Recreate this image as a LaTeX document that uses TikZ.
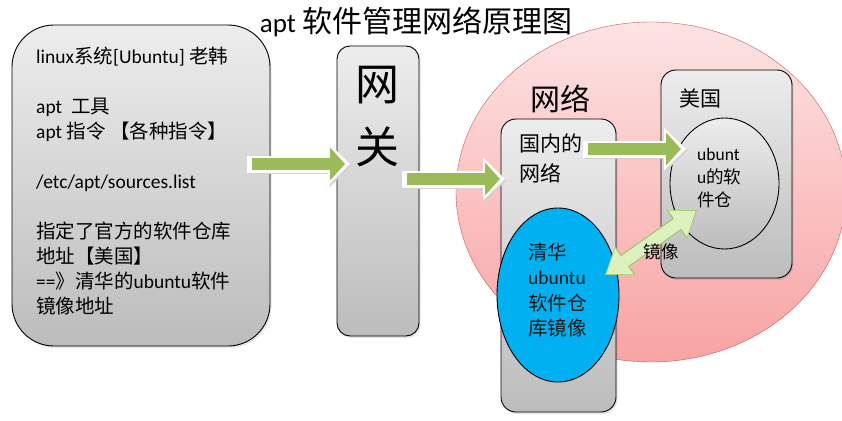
\documentclass[tikz,border=0pt]{standalone}
\usepackage{fontspec}
\setmainfont{Carlito}
\newfontfamily\zhfont{Noto Sans CJK SC}
\newcommand\zh[1]{{\zhfont #1}}
\usetikzlibrary{positioning}
\usetikzlibrary{arrows.meta,shapes.geometric,shadows}

\definecolor{boxtop}{HTML}{EDEDED}
\definecolor{boxbot}{HTML}{BCBCBC}
\definecolor{arrowgreen}{HTML}{9BBB59}
\definecolor{mirrorfill}{HTML}{DDF1BF}
\definecolor{mirrorline}{HTML}{A5C76A}
\definecolor{nettop}{HTML}{FDE3E3}
\definecolor{netbot}{HTML}{F8A3A3}
\definecolor{netline}{HTML}{C9585A}
\definecolor{mirrorblue}{HTML}{00B0F0}

\tikzset{
  panel/.style={draw, line width=0.9pt, rounded corners=15pt, top color=boxtop, bottom color=boxbot,
    drop shadow={shadow xshift=1.5pt, shadow yshift=-2pt, opacity=0.2}},
  repo/.style={ellipse, draw, line width=0.9pt, inner sep=0pt},
  garrow/.style={draw=arrowgreen, line width=12pt, -{Triangle[length=15pt,width=33pt,line width=0pt]},
    preaction={draw=black!18, line width=17pt, -{Triangle[length=22pt,width=43pt,line width=0pt]},
      shorten >=-5pt, shorten <=-5pt, transform canvas={shift={(1.5pt,-1.5pt)}}},
    preaction={draw=white, line width=17pt, -{Triangle[length=22pt,width=43pt,line width=0pt]},
      shorten >=-5pt, shorten <=-5pt}},
  mirror/.style={draw=mirrorfill, line width=12pt,
    {Triangle[length=22pt,width=32pt,line width=0pt]}-{Triangle[length=22pt,width=32pt,line width=0pt]},
    shorten >=1.7pt, shorten <=1.7pt,
    preaction={draw=mirrorline, line width=14.5pt, shorten >=0pt, shorten <=0pt,
      {Triangle[length=25pt,width=35pt,line width=0pt]}-{Triangle[length=25pt,width=35pt,line width=0pt]}}}
}

\begin{document}
\begin{tikzpicture}[x=1pt, y=-1pt, font=\fontsize{19.5}{25}\selectfont]
	\clip (0,0) rectangle (842,420);

	\node (title) at (416,22) {\fontsize{27}{30}\selectfont apt {\fontsize{30}{30}\zhfont 软件管理网络原理图}};

	% linux box
	\node (linux) [panel, rounded corners=42pt, minimum width=258pt, minimum height=321pt] at (141,185.5) {};
	\node (linuxtext) [anchor=north west, align=left, inner sep=0pt] at (36,47) {linux\zh{系统}[Ubuntu] \zh{老韩}\\[25pt]
		apt \ \zh{工具}\\ apt \zh{指令 【各种指令】}\\[25pt]
		/etc/apt/sources.list\\[25pt]
		\zh{指定了官方的软件仓库}\\ \zh{地址【美国】}\\ ==\zh{》清华的}ubuntu\zh{软件}\\ \zh{镜像地址}};

	% gateway
	\node (gate) [panel, rounded corners=13pt, minimum width=82pt, minimum height=290pt] at (378,191) {};
	\node (gatetext) [align=center, font=\fontsize{44}{63}\zhfont] at (377,116.5) {网\\关};

	% network
	\node (net) [ellipse, draw=netline, top color=nettop, bottom color=netbot, minimum width=390pt, minimum height=340pt] at (651,192) {};
	\node (netlabel) [font=\fontsize{30}{30}\zhfont] at (560,99) {网络};

	\node (cn) [panel, minimum width=115pt, minimum height=293pt] at (558.5,265.5) {};
	\node (cntext) [anchor=north west, align=left, inner sep=0pt, font=\fontsize{21}{30}\zhfont] at (519,134) {国内的\\ 网络};

	\node (us) [panel, minimum width=131pt, minimum height=208pt] at (726.5,174) {};
	\node (uslabel) [font=\fontsize{21}{30}\zhfont] at (700.5,98) {美国};

	\node (usrepo) [repo, top color=boxtop, bottom color=boxbot, minimum width=109pt, minimum height=131pt] at (724.5,183.5) {};
	\node (usrepotext) [anchor=west, align=left, inner sep=0pt, font=\fontsize{17.5}{23}\selectfont] at (697,178) {ubunt\\ u\zh{的软}\\ \zh{件仓}};

	\node (tsinghua) [repo, fill=mirrorblue, minimum width=122pt, minimum height=174pt] at (558,295) {};
	\node (tsinghuatext) [anchor=west, align=left, inner sep=0pt, text=black!90, font=\fontsize{19.5}{25.3}\selectfont] at (528,290) {\zh{清华}\\ ubuntu\\ \zh{软件仓}\\ \zh{库镜像}};

	% arrows
	\coordinate (g1s) at (252,164);
	\coordinate (g1e) at (345,164);
	\coordinate (g2s) at (407,179);
	\coordinate (g2e) at (500,179);
	\coordinate (g3s) at (588,149);
	\coordinate (g3e) at (681,149);
	\coordinate (m1) at (605,275);
	\coordinate (m2) at (697,210);

	\draw[garrow] (g1s) -- (g1e);
	\draw[garrow] (g2s) -- (g2e);
	\draw[garrow] (g3s) -- (g3e);
	\draw[mirror] (m1) -- (m2);
	\node (mirrorlabel) [font=\fontsize{17.5}{20}\zhfont] at (661,252) {镜像};
\end{tikzpicture}
\end{document}
